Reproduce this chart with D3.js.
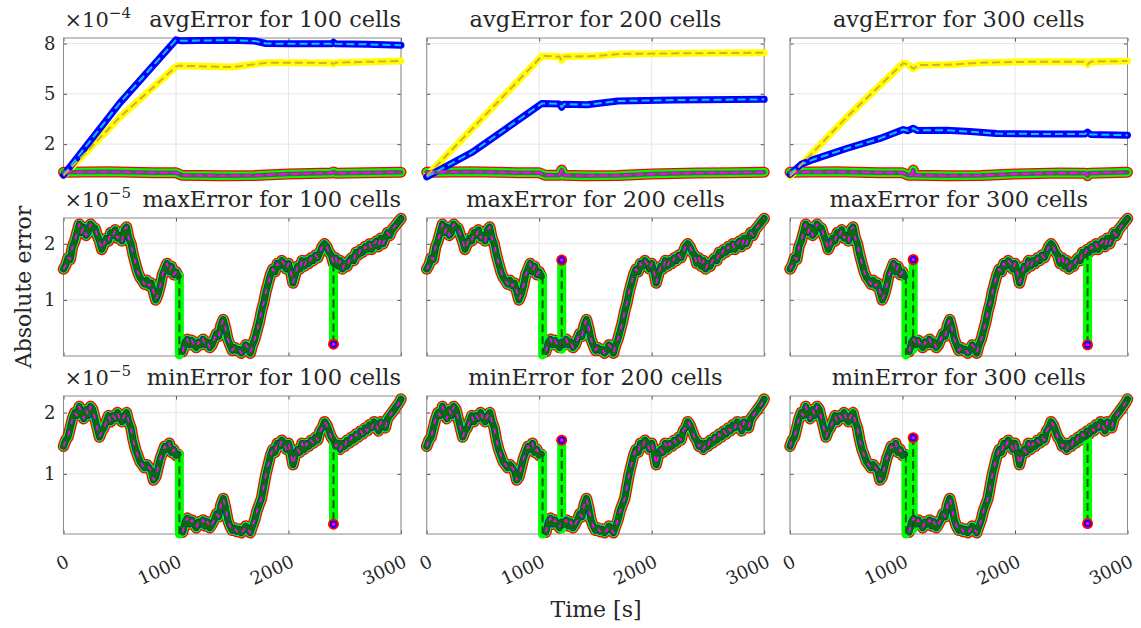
<!DOCTYPE html>
<html>
<head>
<meta charset="utf-8">
<script src="https://cdn.jsdelivr.net/npm/d3@7"></script>
<style>
  body { margin: 0; background: #fff; }
  text { font-family: "DejaVu Serif", "Liberation Serif", serif; fill: #262626; }
</style>
</head>
<body>
<svg id="chart" width="1141" height="628"></svg>
<script>
const svg = d3.select('#chart');

// ---- data ----
const cellCounts = [100, 200, 300];
const metricNames = ['avgError', 'maxError', 'minError'];
const exponents = ['\u22124', '\u22125', '\u22125'];
const xTickValues = [0, 1000, 2000, 3000];
const yTickValues = [[2, 5, 8], [1, 2], [1, 2]];
const yDomains = [[0.1, 8.33], [0, 2.46], [0.02, 2.27]];
const sampleStep = 20; // seconds between samples of the max/min traces

// avgError (x1e-4), [time, value]
const avgBlue100 = [[0, 0.15], [500, 4.45], [1000, 8.22], [1050, 8.16], [1200, 8.18], [1500, 8.2], [1700, 8.15], [1800, 8.0], [2000, 7.98], [2380, 7.98], [2400, 8.08], [2420, 7.98], [2700, 7.95], [3000, 7.9]];
const avgYellow100 = [[0, 0.12], [500, 3.6], [1000, 6.62], [1020, 6.68], [1500, 6.6], [1800, 6.85], [2000, 6.86], [2380, 6.84], [2400, 6.78], [2420, 6.86], [3000, 6.96]];
const avgLow100 = [[0, 0.32], [400, 0.35], [800, 0.3], [1000, 0.3], [1050, 0.15], [1400, 0.12], [1700, 0.13], [2000, 0.22], [2380, 0.28], [2400, 0.34], [2420, 0.27], [2700, 0.3], [3000, 0.33]];

const avgBlue200 = [[0, 0.05], [400, 1.5], [700, 2.9], [1025, 4.43], [1180, 4.4], [1200, 4.2], [1220, 4.38], [1426, 4.35], [1700, 4.57], [2200, 4.63], [3000, 4.67]];
const avgYellow200 = [[0, 0.1], [1025, 7.26], [1180, 7.22], [1200, 7.0], [1220, 7.22], [1500, 7.25], [1723, 7.38], [2300, 7.42], [3000, 7.45]];
const avgLow200 = [[0, 0.32], [400, 0.35], [800, 0.3], [1000, 0.3], [1050, 0.15], [1180, 0.14], [1200, 0.45], [1220, 0.14], [1400, 0.12], [1700, 0.13], [2000, 0.22], [2400, 0.28], [2700, 0.3], [3000, 0.33]];

const avgBlue300 = [[0, 0.2], [100, 0.8], [207, 1.08], [503, 1.74], [800, 2.34], [1007, 2.87], [1050, 2.8], [1096, 2.95], [1130, 2.82], [1392, 2.83], [1600, 2.75], [1836, 2.63], [2300, 2.6], [2620, 2.6], [2645, 2.72], [2670, 2.58], [3000, 2.53]];
const avgYellow300 = [[0, 0.08], [503, 3.6], [1007, 6.83], [1050, 6.75], [1096, 6.5], [1140, 6.72], [1392, 6.73], [1700, 6.86], [2200, 6.92], [2620, 6.92], [2645, 6.75], [2670, 6.92], [3000, 6.96]];
const avgLow300 = [[0, 0.32], [400, 0.35], [800, 0.3], [1000, 0.3], [1050, 0.15], [1080, 0.14], [1096, 0.45], [1110, 0.14], [1400, 0.12], [1700, 0.13], [2000, 0.22], [2400, 0.28], [2630, 0.27], [2645, 0.12], [2660, 0.27], [3000, 0.33]];

// maxError / minError (x1e-5), one value every 20 s, null = gap
const maxError = [
  1.55, 1.62, 1.75, 1.72, 1.95, 2.05, 2.2, 2.35, 2.2, 2.3,
  2.15, 2.2, 2.35, 2.3, 2.28, 2.15, 2.05, 1.9, 2.0, 2.1,
  2.05, 2.2, 2.15, 2.25, 2.1, 2.15, 2.05, 2.25, 2.3, 2.1,
  2.0, 1.8, 1.65, 1.5, 1.4, 1.35, 1.28, 1.35, 1.25, 1.3,
  1.15, 1.0, 1.1, 1.25, 1.45, 1.55, 1.65, 1.5, 1.6, 1.45,
  1.5, 1.42, null,
  0.08, 0.25, 0.3, 0.2, 0.28, 0.2, 0.15, 0.25, 0.2, 0.3,
  0.2, 0.25, 0.15, 0.2, 0.3, 0.4, 0.35, 0.55, 0.65, 0.5,
  0.3, 0.2, 0.1, 0.15, 0.1, 0.12, 0.05, 0.1, 0.2, 0.15,
  0.05, 0.2, 0.3, 0.45, 0.6, 0.8, 0.95, 1.15, 1.3, 1.45,
  1.55, 1.5, 1.65, 1.6, 1.7, 1.65, 1.55, 1.65, 1.5, 1.3,
  1.45, 1.6, 1.55, 1.7, 1.6, 1.7, 1.65, 1.75, 1.7, 1.8,
  1.75, 1.85, 1.95, 2.0, 1.95, 1.85, 1.8, 1.65, 1.75, 1.6,
  1.7, 1.55, 1.65, 1.6, 1.7, 1.75, 1.7, 1.85, 1.8, 1.9,
  1.85, 1.95, 1.9, 2.0, 1.9, 2.0, 2.05, 1.95, 2.1, 2.0,
  2.1, 2.2, 2.15, 2.25, 2.3, 2.35, 2.4, 2.45
];
const minError = [
  1.45, 1.55, 1.6, 1.75, 1.9, 2.0, 1.95, 2.1, 2.0, 1.9,
  2.05, 1.95, 2.1, 2.05, 1.9, 1.75, 1.6, 1.7, 1.75, 1.85,
  1.95, 1.85, 1.95, 1.9, 2.0, 1.9, 1.85, 1.95, 2.0, 1.85,
  1.75, 1.55, 1.4, 1.3, 1.2, 1.15, 1.1, 1.15, 1.1, 1.05,
  0.9, 0.95, 1.1, 1.25, 1.35, 1.45, 1.4, 1.5, 1.35, 1.4,
  1.3, 1.32, null,
  0.05, 0.22, 0.28, 0.18, 0.25, 0.18, 0.12, 0.22, 0.18, 0.25,
  0.15, 0.22, 0.12, 0.18, 0.25, 0.35, 0.3, 0.5, 0.6, 0.45,
  0.25, 0.15, 0.08, 0.12, 0.06, 0.1, 0.04, 0.08, 0.15, 0.1,
  0.04, 0.15, 0.25, 0.4, 0.5, 0.6, 0.8, 1.0, 1.15, 1.3,
  1.4, 1.35, 1.5, 1.45, 1.55, 1.5, 1.4, 1.5, 1.35, 1.15,
  1.3, 1.4, 1.35, 1.5, 1.4, 1.5, 1.45, 1.55, 1.5, 1.6,
  1.55, 1.7, 1.75, 1.85, 1.8, 1.7, 1.6, 1.55, 1.45, 1.5,
  1.4, 1.5, 1.45, 1.55, 1.5, 1.6, 1.55, 1.65, 1.6, 1.7,
  1.65, 1.75, 1.7, 1.8, 1.75, 1.85, 1.8, 1.7, 1.85, 1.8,
  1.75, 1.9, 1.95, 2.0, 2.05, 2.1, 2.15, 2.22
];

// green series drop at ~1000 s: [time, top, bottom]
const maxDrop = [1030, 1.42, 0.02];
const minDrop = [1030, 1.32, 0.02];
// isolated green spikes per column: [time, from, to] (a dot at "to")
const maxSpikes = [[[2400, 1.65, 0.21]], [[1200, 0.12, 1.71]], [[1095, 0.12, 1.72], [2645, 1.85, 0.2]]];
const minSpikes = [[[2400, 1.55, 0.18]], [[1200, 0.1, 1.55]], [[1095, 0.1, 1.59], [2645, 1.7, 0.19]]];

// ---- layout ----
const colX = [63.5, 426.7, 790];
const rowY = [38, 218, 396];
const panelW = 337.5;
const panelH = 138;
const tickLen = 3.5;

const xScale = d3.scaleLinear().domain([0, 3000]).range([0, panelW]);

const drawPath = (g, points, color, width, dash) => {
  const lineGenerator = d3.line()
    .defined(d => d[1] != null)
    .x(d => xScale(d[0]))
    .y(d => g.yScale(d[1]));
  g.append('path')
    .attr('d', lineGenerator(points))
    .attr('fill', 'none')
    .attr('stroke', color)
    .attr('stroke-width', width)
    .attr('stroke-linejoin', 'round')
    .attr('stroke-linecap', dash ? 'butt' : 'round')
    .attr('stroke-dasharray', dash || null);
};

const drawPanel = (r, c) => {
  const g = svg.append('g')
    .attr('transform', `translate(${colX[c]}, ${rowY[r]})`);
  const yScale = d3.scaleLinear().domain(yDomains[r]).range([panelH, 0]);
  g.yScale = yScale;

  // grid
  g.selectAll('.gridx').data(xTickValues).enter().append('line')
    .attr('x1', d => xScale(d)).attr('x2', d => xScale(d))
    .attr('y1', 0).attr('y2', panelH)
    .attr('stroke', '#e6e6e6');
  g.selectAll('.gridy').data(yTickValues[r]).enter().append('line')
    .attr('x1', 0).attr('x2', panelW)
    .attr('y1', d => yScale(d)).attr('y2', d => yScale(d))
    .attr('stroke', '#e6e6e6');

  // ticks on all four sides, pointing inwards
  const styleAxis = sel => {
    sel.select('.domain').remove();
    sel.attr('font-family', null).attr('font-size', 18);
    sel.selectAll('line').attr('stroke', '#555');
    sel.selectAll('text').attr('fill', '#262626');
  };
  const yAxisG = g.append('g')
    .call(d3.axisLeft(yScale).tickValues(yTickValues[r]).tickSize(-tickLen).tickPadding(8)
      .tickFormat(c === 0 ? d3.format('') : ''));
  styleAxis(yAxisG);
  const yAxisRG = g.append('g').attr('transform', `translate(${panelW},0)`)
    .call(d3.axisRight(yScale).tickValues(yTickValues[r]).tickSize(-tickLen).tickFormat(''));
  styleAxis(yAxisRG);
  const xAxisTG = g.append('g')
    .call(d3.axisTop(xScale).tickValues(xTickValues).tickSize(-tickLen).tickFormat(''));
  styleAxis(xAxisTG);
  const xAxisG = g.append('g').attr('transform', `translate(0,${panelH})`)
    .call(d3.axisBottom(xScale).tickValues(xTickValues).tickSize(-tickLen)
      .tickFormat(r === 2 ? d3.format('') : ''));
  styleAxis(xAxisG);
  xAxisG.selectAll('text')
    .attr('y', null).attr('dy', null)
    .attr('text-anchor', 'end')
    .attr('transform', 'translate(6.5,32) rotate(-25)');

  // box
  g.append('rect')
    .attr('width', panelW).attr('height', panelH)
    .attr('fill', 'none').attr('stroke', '#8a8a8a').attr('stroke-width', 1);

  // title
  g.append('text')
    .attr('x', c === 0 ? panelW : panelW / 2)
    .attr('y', -11.5)
    .attr('text-anchor', c === 0 ? 'end' : 'middle')
    .attr('font-size', 22.5)
    .text(`${metricNames[r]} for ${cellCounts[c]} cells`);
  if (c === 0) {
    const ex = g.append('text').attr('x', 1).attr('y', -11.5).attr('font-size', 21);
    ex.append('tspan').text('\u00d710');
    ex.append('tspan').attr('font-size', 15).attr('dy', -9).text(exponents[r]);
  }

  if (r === 0) {
    const blue = [avgBlue100, avgBlue200, avgBlue300][c];
    const yellow = [avgYellow100, avgYellow200, avgYellow300][c];
    const low = [avgLow100, avgLow200, avgLow300][c];
    drawPath(g, low, '#ff0000', 11);
    drawPath(g, low, '#00ff00', 8.5);
    drawPath(g, yellow, '#ffff00', 7);
    drawPath(g, blue, '#0000ff', 7);
    drawPath(g, low, '#5a5a5a', 4.5);
    drawPath(g, low, '#ff00ff', 2, '8,4');
    drawPath(g, blue, '#00c8ff', 2, '8,4');
    drawPath(g, yellow, '#d8aa3a', 2, '8,4');
  } else {
    const values = r === 1 ? maxError : minError;
    const drop = r === 1 ? maxDrop : minDrop;
    const spikes = (r === 1 ? maxSpikes : minSpikes)[c];
    const trace = values.map((v, i) => [i * sampleStep, v]);
    const greenBars = [[[drop[0], drop[1]], [drop[0], drop[2]]]]
      .concat(spikes.map(s => [[s[0], s[1]], [s[0], s[2]]]));

    drawPath(g, trace, '#ff0000', 11.5);
    drawPath(g, trace, '#00ff00', 9);
    greenBars.forEach(b => drawPath(g, b, '#00ff00', 9));
    drawPath(g, trace, '#0000ff', 6.5);
    drawPath(g, trace, '#0b6a0b', 5.5);
    drawPath(g, trace, '#ff00ff', 1.8, '5,7');
    greenBars.forEach(b => drawPath(g, b, '#0c5a0c', 2, '8,4'));

    // isolated points at the spike ends
    spikes.forEach(s => {
      const cx = xScale(s[0]), cy = yScale(s[2]);
      g.append('circle').attr('cx', cx).attr('cy', cy).attr('r', 5.5).attr('fill', '#ff0000');
      g.append('circle').attr('cx', cx).attr('cy', cy).attr('r', 3.5).attr('fill', '#0000ff');
      g.append('circle').attr('cx', cx).attr('cy', cy).attr('r', 1.8).attr('fill', '#ff00ff');
    });
  }
};

for (let r = 0; r < 3; r++) {
  for (let c = 0; c < 3; c++) drawPanel(r, c);
}

// axis titles
svg.append('text')
  .attr('transform', 'translate(31, 287) rotate(-90)')
  .attr('text-anchor', 'middle')
  .attr('font-size', 22)
  .text('Absolute error');

svg.append('text')
  .attr('x', 596).attr('y', 617)
  .attr('text-anchor', 'middle')
  .attr('font-size', 22)
  .text('Time [s]');
</script>
</body>
</html>
